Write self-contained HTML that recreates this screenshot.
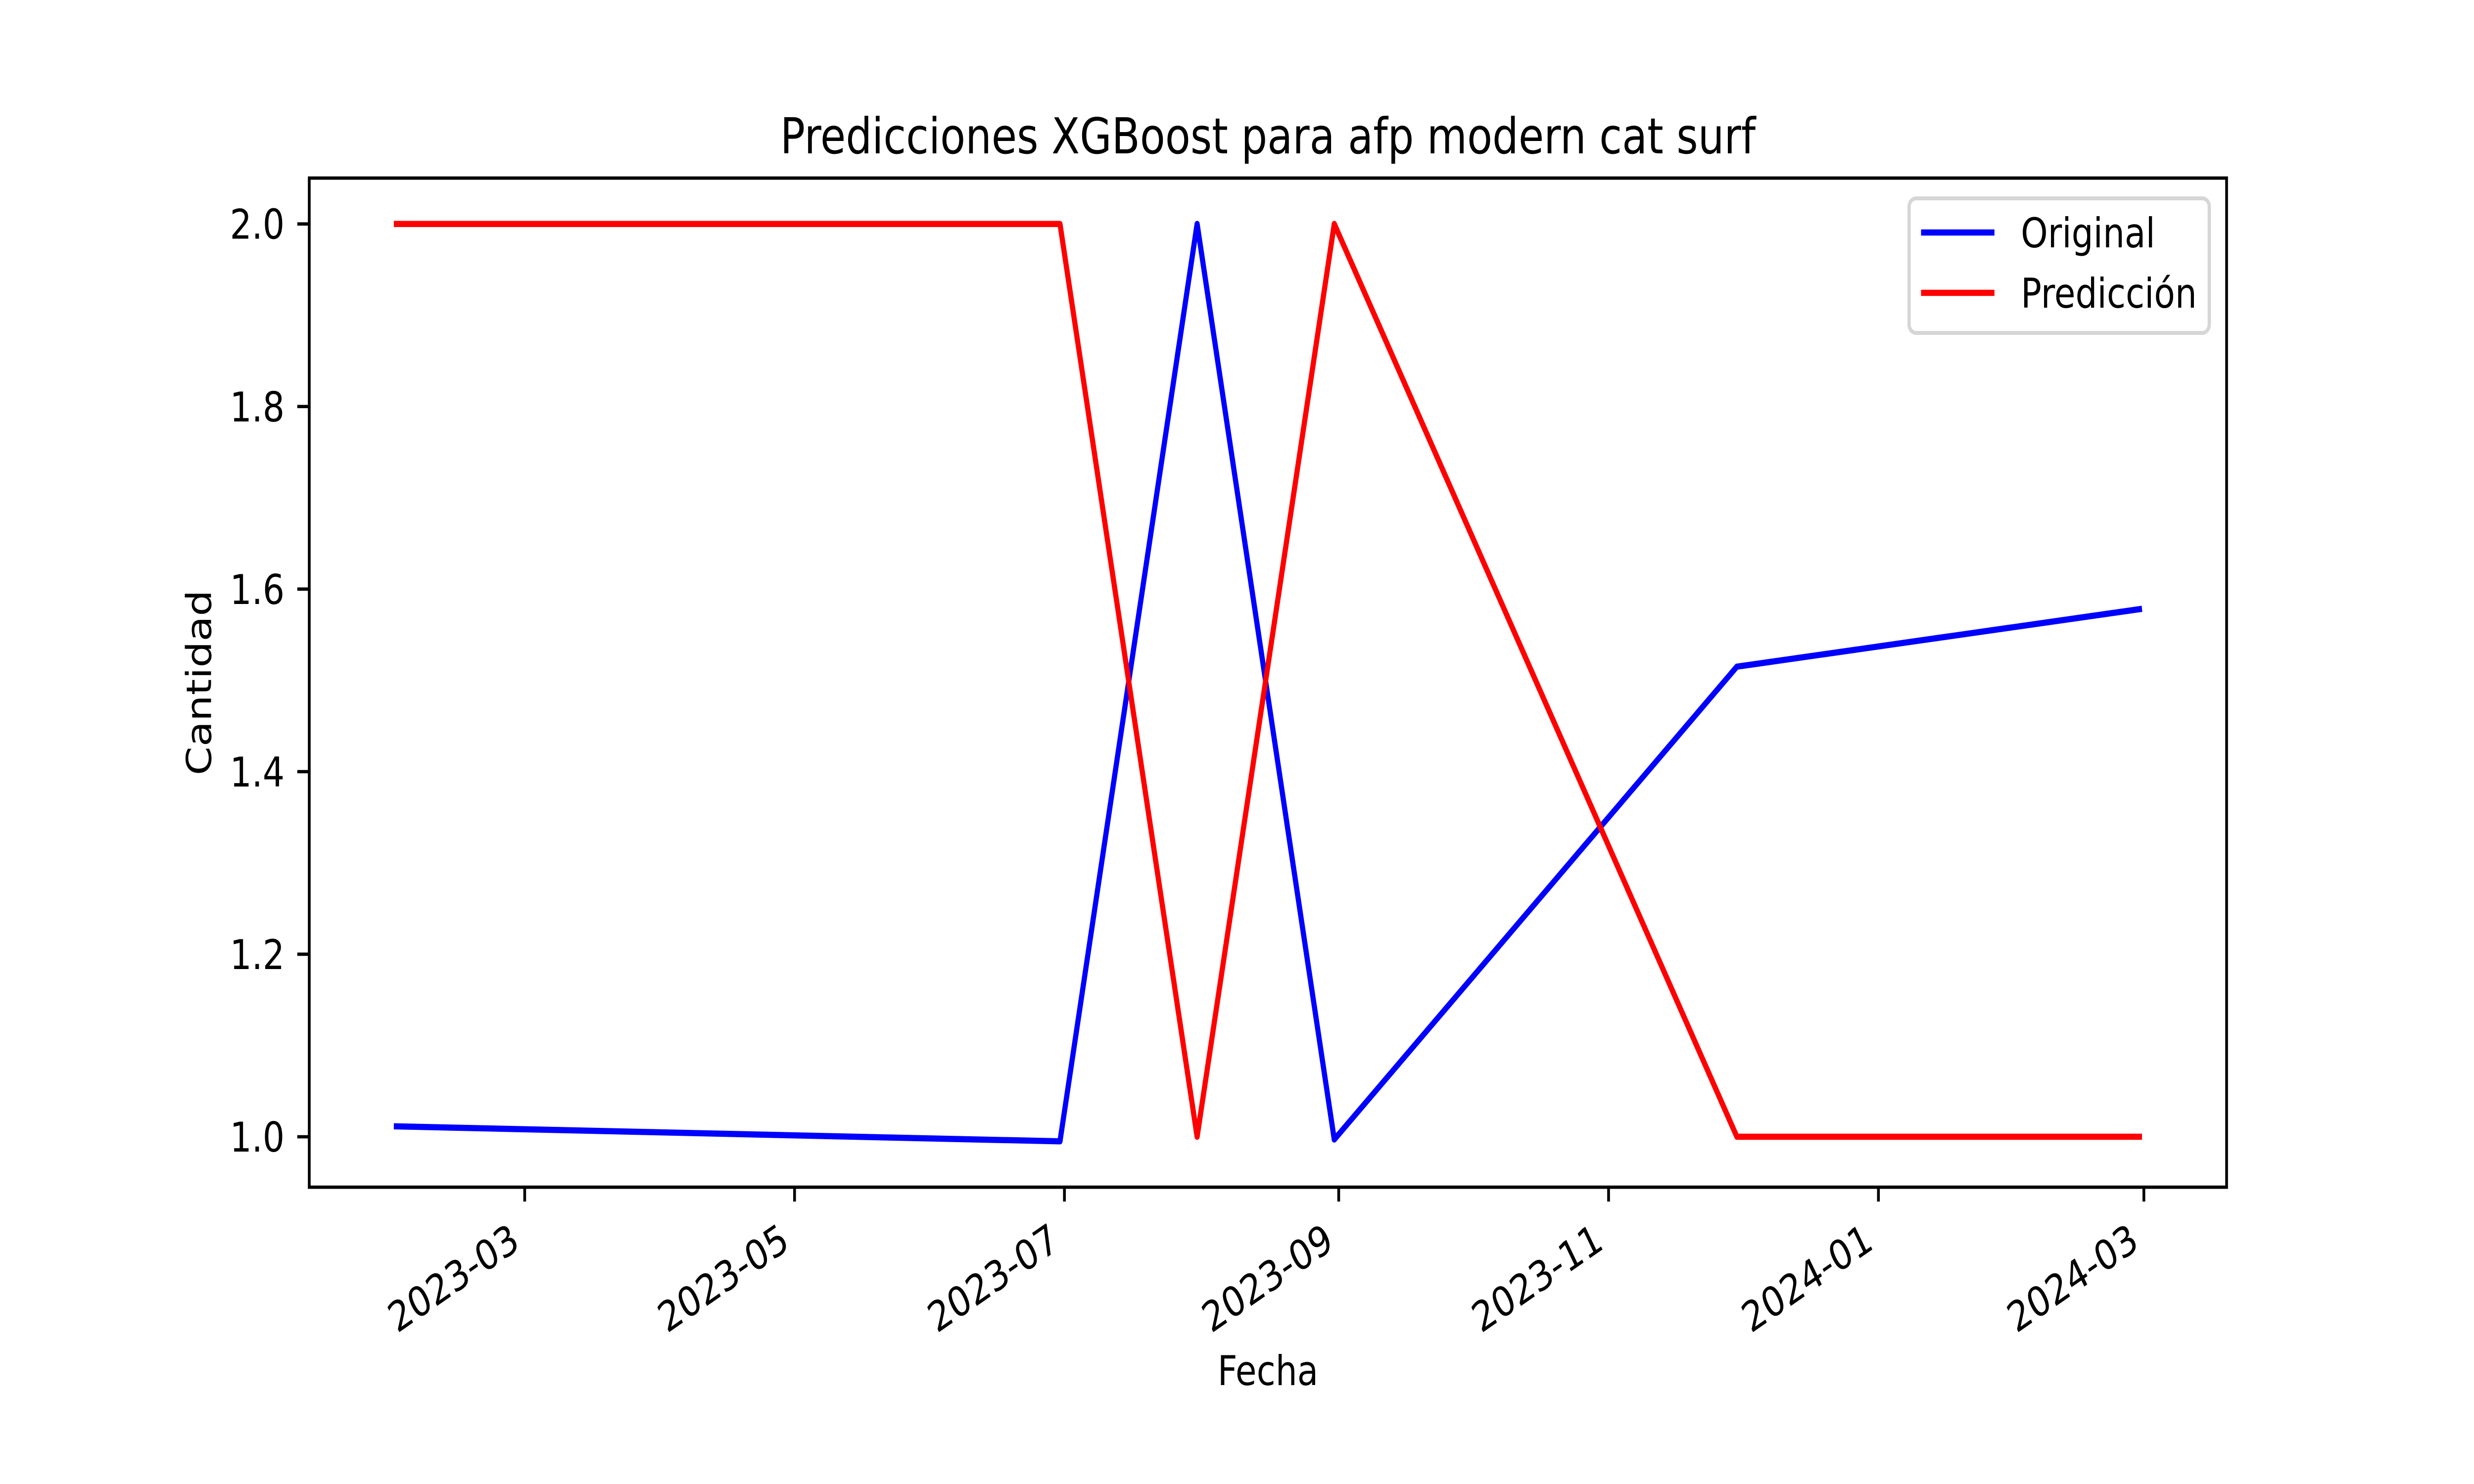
<!DOCTYPE html>
<html><head><meta charset="utf-8">
<style>html,body{margin:0;padding:0;background:#fff;overflow:hidden;width:100%;height:100%;}svg{display:block;width:100vw;height:100vh;}</style>
</head><body>
<svg id="chart" viewBox="0 0 6000 3000" preserveAspectRatio="none" xmlns="http://www.w3.org/2000/svg" font-family="'DejaVu Sans','Liberation Sans',sans-serif">
<rect width="6000" height="3000" fill="#fff"/>
</svg>
<script>
const dates = ["2023-01-31","2023-06-30","2023-07-31","2023-08-31","2023-11-30","2024-02-29"];
const originalValues = [1.0114, 0.995, 2.0, 0.997, 1.515, 1.578];
const predictionValues = [2, 2, 1, 2, 1, 1];
const xTickLabels = ["2023-03","2023-05","2023-07","2023-09","2023-11","2024-01","2024-03"];
const yTickValues = [1.0, 1.2, 1.4, 1.6, 1.8, 2.0];

const NS = "http://www.w3.org/2000/svg";
const svg = document.getElementById("chart");
const L = 750, R = 5400, T = 360, B = 2400;
const day = s => Date.parse(s + "T00:00:00Z") / 86400000;
const ds = dates.map(day);
const dmin = Math.min(...ds), dmax = Math.max(...ds);
const dpad = (dmax - dmin) * 0.05;
const all = originalValues.concat(predictionValues);
const vmin = Math.min(...all), vmax = Math.max(...all);
const vpad = (vmax - vmin) * 0.05;
const xs = d => L + (d - (dmin - dpad)) / ((dmax + dpad) - (dmin - dpad)) * (R - L);
const ys = v => B - (v - (vmin - vpad)) / ((vmax + vpad) - (vmin - vpad)) * (B - T);

function mk(tag, attrs, parent) {
  const e = document.createElementNS(NS, tag);
  for (const k in attrs) e.setAttribute(k, attrs[k]);
  (parent || svg).appendChild(e);
  return e;
}

function series(vals, color, name) {
  const pts = ds.map((d, i) => xs(d).toFixed(1) + "," + ys(vals[i]).toFixed(1)).join(" ");
  const p = mk("polyline", {points: pts, fill: "none", stroke: color, "stroke-width": 12.5, "stroke-linecap": "square", "stroke-linejoin": "round"});
  
  
}
series(originalValues, "#0000ff", "original-line");
series(predictionValues, "#ff0000", "prediction-line");

yTickValues.forEach(v => {
  const y = ys(v);
  const t = mk("line", {x1: L - 29, x2: L, y1: y, y2: y, stroke: "#000", "stroke-width": 6.7});
  
  
  const lb = mk("text", {x: 690, y: y + 30, "text-anchor": "end", "font-size": 83.3, fill: "#000"});
  lb.textContent = v.toFixed(1);
  
  
});

xTickLabels.forEach(s => {
  const x = xs(day(s + "-01"));
  const t = mk("line", {x1: x, x2: x, y1: B, y2: B + 29, stroke: "#000", "stroke-width": 6.7});
  
  
  const ax = x - 8, ay = B + 58 + 64;
  const lb = mk("text", {x: ax, y: ay, "text-anchor": "end", "font-size": 83.3, fill: "#000", transform: `rotate(-30 ${ax} ${ay})`});
  lb.textContent = s;
  
  
});

const fr = mk("rect", {x: L, y: T, width: R - L, height: B - T, fill: "none", stroke: "#000", "stroke-width": 6.7, "stroke-linejoin": "miter"});



const title = mk("text", {x: (L + R) / 2, y: 310, "text-anchor": "middle", "font-size": 100, fill: "#000"});
title.textContent = "Predicciones XGBoost para afp modern cat surf";


const xl = mk("text", {x: (L + R) / 2, y: 2800, "text-anchor": "middle", "font-size": 83.3, fill: "#000"});
xl.textContent = "Fecha";


const yl = mk("text", {x: 512, y: (T + B) / 2, "text-anchor": "middle", "font-size": 83.3, fill: "#000", transform: `rotate(-90 512 ${(T + B) / 2})`});
yl.textContent = "Cantidad";



const lg = mk("g", {});


mk("rect", {x: 4630, y: 401, width: 728, height: 272, rx: 17, fill: "#fff", "fill-opacity": 0.8, stroke: "#d6d6d6", "stroke-width": 8}, lg);
const entries = [["Original", "#0000ff", 470], ["Predicción", "#ff0000", 592]];
entries.forEach(([name, col, y]) => {
  const g = mk("g", {}, lg);
  
  
  mk("line", {x1: 4659, x2: 4837, y1: y, y2: y, stroke: col, "stroke-width": 12.5}, g);
  const t = mk("text", {x: 4901, y: y + 30, "font-size": 83.3, fill: "#000"}, g);
  t.textContent = name;
});
</script>
</body></html>
